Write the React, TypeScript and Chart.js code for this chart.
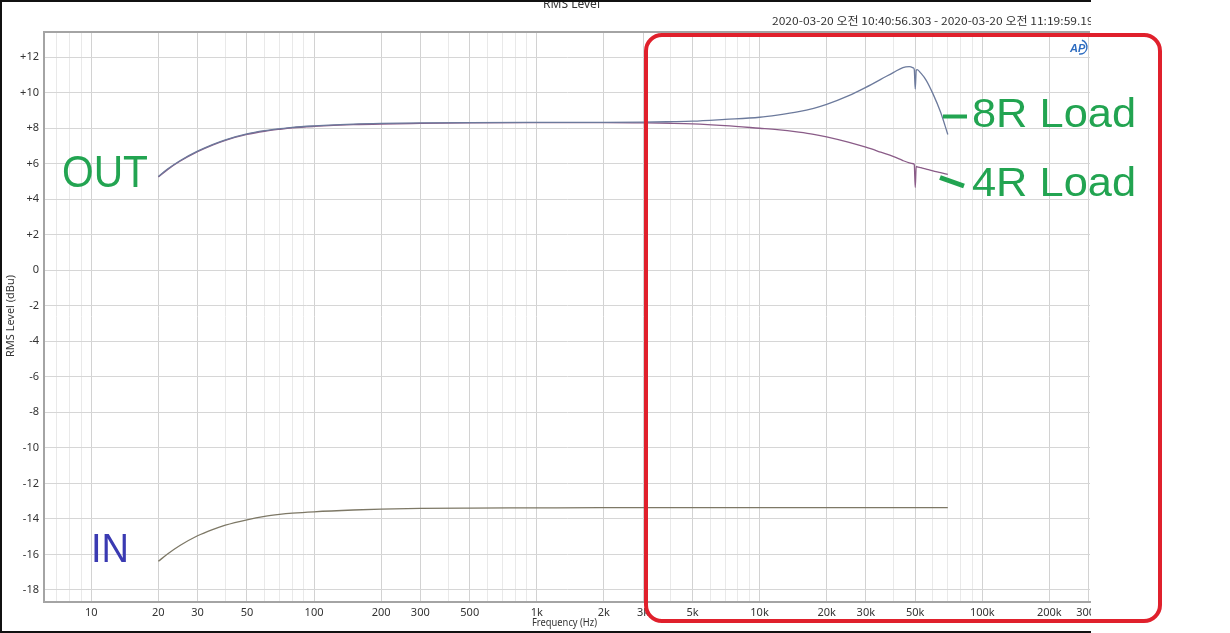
import React, { useEffect, useRef } from "react";
import { Chart, registerables } from "chart.js";

Chart.register(...registerables);

// ---- data ----
const FREQ = [20, 22, 25, 30, 35, 40, 50, 60, 70, 80, 100, 150, 200, 300, 500, 1000, 2000, 3000, 4000, 5000, 7000, 10000, 12000, 15000, 17500, 20000, 25000, 30000, 35000, 40000, 44000, 47000, 49000, 49500, 50000, 50500, 51000, 53000, 56000, 60000, 65000, 70000];

const OUT_8R = [5.28, 5.7, 6.17, 6.71, 7.08, 7.35, 7.68, 7.86, 7.97, 8.05, 8.13, 8.23, 8.27, 8.3, 8.32, 8.33, 8.33, 8.34, 8.37, 8.4, 8.5, 8.62, 8.74, 8.93, 9.12, 9.34, 9.82, 10.3, 10.75, 11.15, 11.42, 11.47, 11.4, 11.3, 10.2, 11.25, 11.3, 11.1, 10.7, 9.95, 8.9, 7.65];

const OUT_4R = [5.25, 5.67, 6.14, 6.68, 7.05, 7.32, 7.65, 7.83, 7.94, 8.02, 8.1, 8.2, 8.24, 8.27, 8.3, 8.32, 8.32, 8.3, 8.28, 8.25, 8.15, 8.0, 7.92, 7.78, 7.66, 7.52, 7.22, 6.93, 6.65, 6.4, 6.18, 6.05, 6.0, 5.95, 4.66, 5.85, 5.83, 5.78, 5.7, 5.6, 5.5, 5.4];

const IN_LEVEL = [-16.39, -15.98, -15.5, -14.95, -14.6, -14.35, -14.05, -13.86, -13.75, -13.68, -13.6, -13.5, -13.45, -13.41, -13.39, -13.38, -13.37, -13.37, -13.37, -13.37, -13.37, -13.37, -13.37, -13.37, -13.37, -13.37, -13.37, -13.37, -13.37, -13.37, -13.37, -13.37, -13.37, -13.37, -13.37, -13.37, -13.37, -13.37, -13.37, -13.37, -13.37, -13.37];

const X_LABELED = [10, 20, 30, 50, 100, 200, 300, 500, 1000, 2000, 3000, 5000, 10000, 20000, 30000, 50000, 100000, 200000, 300000];
const Y_TICKS = [-18, -16, -14, -12, -10, -8, -6, -4, -2, 0, 2, 4, 6, 8, 10, 12];

const TITLE = "RMS Level";
const DATE_TEXT = "2020-03-20 오전 10:40:56.303 - 2020-03-20 오전 11:19:59.196";
const Y_TITLE = "RMS Level (dBu)";
const X_TITLE = "Frequency (Hz)";

const X_MIN = 6.135;
const X_MAX = 304400;
const Y_MIN = -18.68;
const Y_MAX = 13.42;

const FONT = "'Noto Sans', 'DejaVu Sans', sans-serif";
const ANNO_FONT = "'Liberation Sans', Arial, sans-serif";

function drawFit(ctx: CanvasRenderingContext2D, text: string, x: number, baseline: number, width: number, size: number, color: string, family = FONT, weight = "") {
  ctx.save();
  ctx.font = `${weight} ${size}px ${family}`.trim();
  const w = ctx.measureText(text).width;
  ctx.translate(x, baseline);
  ctx.scale(width / w, 1);
  ctx.fillStyle = color;
  ctx.textAlign = "left";
  ctx.textBaseline = "alphabetic";
  ctx.fillText(text, 0, 0);
  ctx.restore();
}

const overlayPlugin = {
  id: "overlay",
  afterDraw(chart: any) {
    const ctx: CanvasRenderingContext2D = chart.ctx;
    const area = chart.chartArea;
    ctx.save();
    // top plot border
    ctx.fillStyle = "#a4a4a4";
    ctx.fillRect(area.left, area.top - 1, area.right - area.left, 2);

    // titles
    drawFit(ctx, TITLE, 543, 8, 57, 12, "#333");
    ctx.font = `11px 'Noto Sans CJK KR', ${FONT}`;
    const full = ctx.measureText(DATE_TEXT).width;
    const part = ctx.measureText(DATE_TEXT.slice(0, DATE_TEXT.length - 2)).width;
    const sx = (1087 - 772) / part;
    drawFit(ctx, DATE_TEXT, 772, 25, full * sx, 11, "#333", `'Noto Sans CJK KR', ${FONT}`);

    // axis titles
    drawFit(ctx, X_TITLE, 532, 626, 65, 11, "#333");
    ctx.save();
    ctx.translate(14, 357);
    ctx.rotate(-Math.PI / 2);
    drawFit(ctx, Y_TITLE, 0, 0, 82, 10, "#333");
    ctx.restore();

    // AP logo
    ctx.save();
    ctx.fillStyle = "#2d6cc0";
    ctx.strokeStyle = "#2d6cc0";
    ctx.font = `italic bold 11px ${ANNO_FONT}`;
    ctx.fillText("AP", 1070, 52);
    ctx.lineWidth = 1.4;
    ctx.beginPath();
    ctx.arc(1080, 47, 7, -1.3, 1.7);
    ctx.stroke();
    ctx.restore();

    // crop of the original screenshot
    ctx.fillStyle = "#ffffff";
    ctx.fillRect(1091, 0, 139, 633);

    // black frame
    ctx.fillStyle = "#111";
    ctx.fillRect(0, 0, 1091, 2);
    ctx.fillRect(0, 0, 2, 633);
    ctx.fillRect(0, 631, 1091, 2);

    // red rounded box
    ctx.strokeStyle = "#e0202c";
    ctx.lineWidth = 4;
    ctx.beginPath();
    (ctx as any).roundRect(646, 35, 514, 586, 16);
    ctx.stroke();

    // annotations
    const green = "#22a451";
    ctx.strokeStyle = green;
    ctx.lineCap = "butt";
    ctx.lineWidth = 4;
    ctx.beginPath();
    ctx.moveTo(943, 116.5);
    ctx.lineTo(967, 116.5);
    ctx.stroke();
    ctx.lineWidth = 5;
    ctx.beginPath();
    ctx.moveTo(940, 177.5);
    ctx.lineTo(964, 186);
    ctx.stroke();

    drawFit(ctx, "8R Load", 972, 127, 164, 40.5, green, ANNO_FONT);
    drawFit(ctx, "4R Load", 972, 196, 164, 40.5, green, ANNO_FONT);
    drawFit(ctx, "OUT", 62, 187, 86, 44, green, ANNO_FONT);
    drawFit(ctx, "IN", 91, 562, 38, 41, "#3a3ab2", ANNO_FONT);
    ctx.restore();
  },
};

export default function App() {
  const ref = useRef<HTMLCanvasElement | null>(null);
  useEffect(() => {
    document.body.style.margin = "0";
    const canvas = ref.current!;
    const mk = (vals: number[]) => FREQ.map((f, i) => ({ x: f, y: vals[i] }));
    const chart = new Chart(canvas, {
      type: "line",
      data: {
        datasets: [
          { label: "IN", data: mk(IN_LEVEL), borderColor: "#7d7866", borderWidth: 1.3, pointRadius: 0, cubicInterpolationMode: "monotone" },
          { label: "8R", data: mk(OUT_8R), borderColor: "#6c7a9c", borderWidth: 1.3, pointRadius: 0, cubicInterpolationMode: "monotone" },
          { label: "4R", data: mk(OUT_4R), borderColor: "#8a5c88", borderWidth: 1.3, pointRadius: 0, cubicInterpolationMode: "monotone" },
        ],
      },
      options: {
        animation: false,
        responsive: false,
        devicePixelRatio: 1,
        layout: { padding: { left: 0, top: 32, right: 140, bottom: 0 } },
        plugins: { legend: { display: false }, tooltip: { enabled: false }, title: { display: false } },
        scales: {
          x: {
            type: "logarithmic",
            min: X_MIN,
            max: X_MAX,
            afterBuildTicks: (s: any) => {
              const t: any[] = [];
              for (let d = 1; d <= 100000; d *= 10) {
                for (let m = 1; m <= 9; m++) {
                  const v = m * d;
                  if (v >= X_MIN && v <= X_MAX) t.push({ value: v });
                }
              }
              s.ticks = t;
            },
            afterFit: (s: any) => { s.height = 31; },
            ticks: {
              autoSkip: false,
              maxRotation: 0,
              padding: 4,
              color: "#333",
              font: { size: 11, family: FONT },
              callback: (v: any) => {
                const n = Number(v);
                if (!X_LABELED.includes(n)) return "";
                return n >= 1000 ? n / 1000 + "k" : String(n);
              },
            },
            grid: {
              drawTicks: false,
              color: (c: any) => (X_LABELED.includes(c.tick && c.tick.value) ? "#d2d2d2" : "#e9e9e9"),
              lineWidth: 1,
            },
            border: { display: true, color: "#a4a4a4", width: 2 },
          },
          y: {
            type: "linear",
            min: Y_MIN,
            max: Y_MAX,
            afterBuildTicks: (s: any) => { s.ticks = Y_TICKS.map((v) => ({ value: v })); },
            afterFit: (s: any) => { s.width = 44; },
            ticks: {
              padding: 5,
              color: "#333",
              font: { size: 11, family: FONT },
              callback: (v: any) => (Number(v) > 0 ? "+" + v : String(v)),
            },
            grid: { drawTicks: false, color: "#d6d6d6", lineWidth: 1 },
            border: { display: true, color: "#a4a4a4", width: 2 },
          },
        },
      },
      plugins: [overlayPlugin],
    } as any);
    return () => chart.destroy();
  }, []);
  return (
    <div style={{ position: "absolute", left: 0, top: 0, width: 1230, height: 633, background: "#fff" }}>
      <canvas ref={ref} width={1230} height={633} style={{ display: "block", width: 1230, height: 633 }} />
    </div>
  );
}
